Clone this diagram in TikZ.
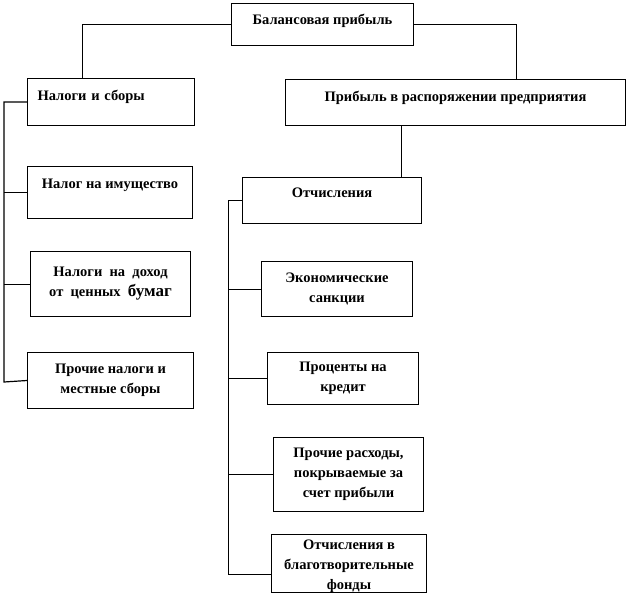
\documentclass[tikz,border=0pt]{standalone}
\usepackage{fontspec}
\setmainfont{Liberation Serif}

\begin{document}
\begin{tikzpicture}[x=1pt,y=-1pt,
	box/.style={draw, line width=1pt, anchor=north west, align=center, inner sep=0pt,
		font=\fontsize{14.5}{20}\selectfont\bfseries},
	oneline/.style={text depth=#1}]
\useasboundingbox (0,0) rectangle (631,597);
\node[box, oneline=11pt, minimum width=182pt, minimum height=42pt](bal) at (231,3) {Балансовая прибыль};
\node[box, oneline=13pt, minimum width=167pt, minimum height=47pt, align=left, text width=147pt](nal) at (27,78) {Налоги и сборы};
\node[box, oneline=13pt, minimum width=340pt, minimum height=46pt](rasp) at (285,79) {Прибыль в распоряжении предприятия};
\node[box, oneline=17pt, minimum width=165pt, minimum height=52pt](imu) at (27,166) {Налог на имущество};
\node[box, minimum width=160pt, minimum height=65pt](doh) at (30,251) {Налоги\ \ на\ \ доход\\от\ \ ценных\ \ {\fontsize{17}{20}\selectfont бумаг}};
\node[box, minimum width=166pt, minimum height=56pt](proch) at (27,352) {Прочие налоги и\\местные сборы};
\node[box, oneline=15pt, minimum width=179pt, minimum height=46pt](otch) at (242,177) {Отчисления};
\node[box, minimum width=151pt, minimum height=55pt](econ) at (261,261) {Экономические\\санкции};
\node[box, minimum width=151pt, minimum height=52pt](proc) at (267,352) {Проценты на\\кредит};
\node[box, minimum width=150pt, minimum height=74pt](rash) at (273,437) {Прочие расходы,\\покрываемые за\\счет прибыли};
\node[box, text height=55pt, minimum width=155pt, minimum height=58pt](blag) at (271,534) {Отчисления в\\благотворительные\\фонды};
\coordinate(lb) at (4,382);
\coordinate(rb) at (228,574);
% top level
\draw (bal.west) -| ([xshift=-29pt]nal.north);
\draw (bal.east) -| ([xshift=61pt]rasp.north);
\draw ([xshift=-54pt]rasp.south) -- ([xshift=-54pt]rasp.south |- otch.north);
% left branch
\draw[line width=1.2pt] (nal.west) -| (lb) -- (proch.west);
\draw (imu.west) -- (imu.west -| lb);
\draw (doh.west) -- (doh.west -| lb);
% right branch
\draw (otch.west) -| (rb) -- (rb -| blag.west);
\draw (econ.west) -- (econ.west -| rb);
\draw (proc.west) -- (proc.west -| rb);
\draw (rash.west) -- (rash.west -| rb);
\end{tikzpicture}
\end{document}
